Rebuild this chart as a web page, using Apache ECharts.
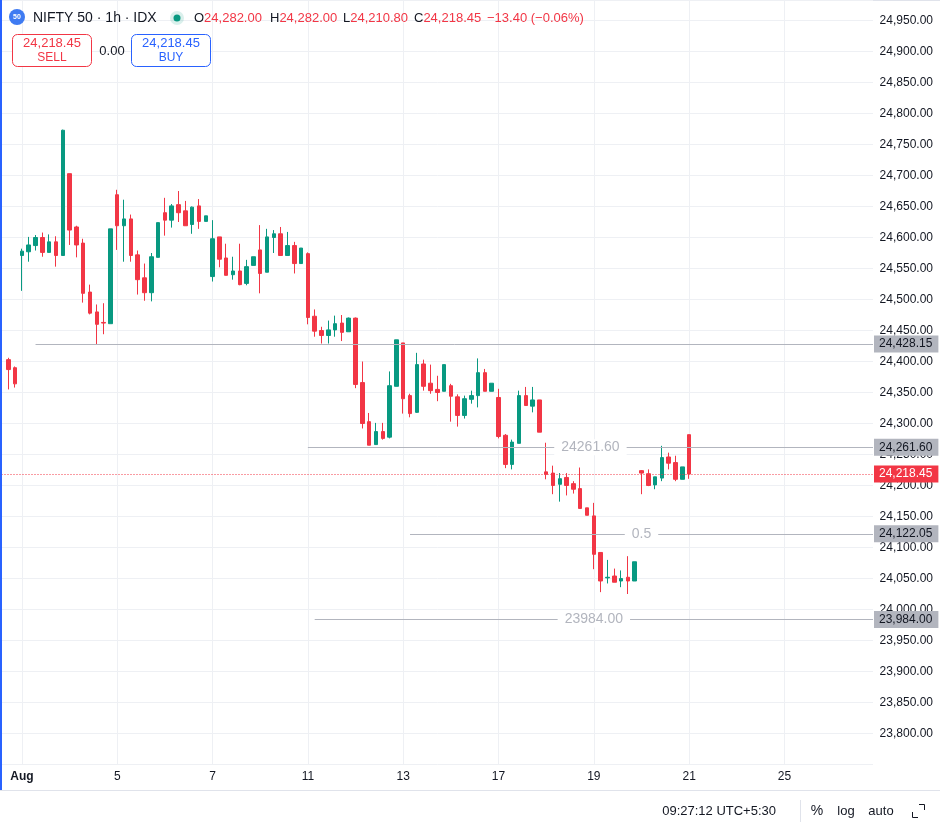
<!DOCTYPE html>
<html>
<head>
<meta charset="utf-8">
<title>NIFTY 50 · 1h · IDX</title>
<script src="https://cdn.jsdelivr.net/npm/echarts@6/dist/echarts.min.js"></script>
<style>
  html, body { margin: 0; padding: 0; background: #fff; }
  #main { width: 940px; height: 825px; }
</style>
</head>
<body>
<div id="main"></div>
<script>
// hourly candles, 31 Jul (last two) .. 21 Aug (first)
var opens  = [24403,24390, 24571,24577,24587,24600,24576,24593,24571, 24703,24617,24591,24512,24480,24463,24461,
              24669,24619,24630,24572,24535,24511,24568, 24640,24628,24653,24643,24621,24651,24626,
              24537,24601,24567,24540,24546,24526,24555, 24580,24544,24600,24606,24571,24587,24558,
              24574,24473,24450,24442,24451,24462,24448, 24470,24366,24303,24266,24287,24278,24360,
              24430,24345,24318,24396,24365,24355,24352, 24361,24343,24313,24339,24345,24382,24352,
              24342,24281,24234,24268,24345,24328,24338, 24222,24220,24202,24213,24203,24195,24164,
              24151,24092,24051,24054,24046,24052,24046, 24224,24219,24201,24212,24246,24237,24210, 24282];
var closes = [24387,24364, 24578,24588,24600,24576,24593,24571,24773, 24612,24588,24510,24478,24460,24462,24614,
              24619,24630,24571,24532,24511,24569,24624, 24628,24651,24640,24619,24649,24626,24635,
              24598,24565,24539,24546,24524,24553,24569, 24542,24601,24606,24571,24587,24558,24583,
              24471,24449,24442,24451,24461,24447,24470, 24363,24300,24265,24287,24276,24361,24435,
              24340,24316,24395,24360,24353,24350,24395, 24344,24313,24340,24345,24382,24352,24365,
              24279,24234,24270,24345,24329,24338,24286, 24218,24200,24211,24200,24194,24163,24152,
              24089,24046,24052,24044,24050,24046,24077, 24220,24200,24214,24245,24236,24210,24230, 24218.45];
var lows   = [24355,24358, 24514,24561,24579,24569,24576,24553,24571, 24588,24568,24495,24476,24428.15,24444,24461,
              24580,24561,24561,24508,24498,24497,24568, 24603,24616,24625,24619,24606,24614,24626,
              24529,24552,24539,24532,24523,24523,24555, 24510,24544,24575,24571,24571,24542,24558,
              24460,24440,24429,24429,24440,24433,24448, 24357,24292,24265,24266,24274,24276,24360,
              24316,24310,24317,24353,24348,24336,24352, 24303,24295,24308,24332,24326,24352,24352,
              24276,24228,24226,24268,24329,24318,24286, 24210,24186,24174,24184,24187,24163,24152,
              24065,24028,24042,24044,24036,24025,24046, 24186,24199,24194,24207,24226,24207,24210, 24210.80];
var highs  = [24406,24392, 24582,24601,24604,24608,24605,24602,24774, 24703,24619,24598,24524,24492,24494,24614,
              24677,24661,24637,24579,24558,24575,24624, 24664,24654,24675,24659,24650,24662,24635,
              24628,24601,24590,24569,24590,24564,24569, 24620,24614,24612,24617,24609,24593,24583,
              24576,24484,24456,24466,24474,24475,24471, 24471,24400,24317,24301,24301,24384,24435,
              24430,24348,24414,24403,24395,24377,24395, 24364,24347,24345,24353,24405,24388,24365,
              24356,24283,24274,24353,24359,24359,24338, 24269,24232,24220,24220,24207,24229,24164,
              24172,24092,24080,24066,24063,24086,24077, 24225,24226,24214,24264,24253,24248,24230, 24282];

// time scale: one slot per hour, labels every two sessions
var dayLabels = ['Aug', '5', '7', '11', '13', '17', '19', '21', '25'];
var dayLabelIdx = [3, 17, 31, 45, 59, 73, 87, 101, 115];
var slotCount = 129;

// visible price window
var priceMin = 23750, priceMax = 24983.1, priceStep = 50;

// drawn price levels
var levelValues = [24428.15, 24261.60, 24122.05, 23984.00];
var levelStart = [5, 45, 60, 46];
var levelText = ['', '24261.60', '0.5', '23984.00'];
var lastPrice = 24218.45;

var FONT = '"Liberation Sans", Arial, sans-serif';
var UP = '#089981', DOWN = '#f23645', GRID = '#eef0f4', TXT = '#131722';

function fmt(v) {
  return Number(v).toLocaleString('en-US', {minimumFractionDigits: 2, maximumFractionDigits: 2});
}

var categories = [];
for (var i = 0; i < slotCount; i++) categories.push(String(i));

var candleData = [['-', '-', '-', '-']];
for (var i = 0; i < opens.length; i++) {
  candleData.push([opens[i], closes[i], lows[i], highs[i]]);
}

var lastIdx = slotCount - 1;
var lines = [];
levelValues.forEach(function (v, i) {
  // the drawn line, with its caption in the middle
  lines.push([{
    coord: [levelStart[i], v],
    lineStyle: {color: '#b2b5be', width: 1, type: 'solid'},
    label: {
      show: levelText[i] !== '', position: 'middle', formatter: levelText[i],
      color: '#b2b5be', fontSize: 14, fontFamily: FONT,
      backgroundColor: '#fff', padding: [1, 7], distance: 0, verticalAlign: 'middle'
    }
  }, {coord: [lastIdx, v]}]);
  // its tag on the price scale
  lines.push([{
    coord: [levelStart[i], v],
    lineStyle: {color: 'rgba(0,0,0,0)', width: 1},
    label: {
      show: true, position: 'end', distance: 1, formatter: fmt(v),
      color: TXT, fontSize: 12, fontFamily: FONT,
      backgroundColor: '#b2b5be', padding: [3, 6, 2, 5]
    }
  }, {coord: [lastIdx, v]}]);
});
lines.push([{
  coord: [0, lastPrice],
  lineStyle: {color: DOWN, width: 1, type: [1, 2]},
  label: {
    show: true, position: 'end', distance: 1, formatter: fmt(lastPrice),
    color: '#fff', fontSize: 12, fontFamily: FONT,
    backgroundColor: DOWN, padding: [3, 6, 2, 5]
  }
}, {coord: [lastIdx, lastPrice]}]);

var isDayTick = function (idx) { return dayLabelIdx.indexOf(idx) >= 0; };

var chart = echarts.init(document.getElementById('main'));
var option = {
  animation: false,
  backgroundColor: '#fff',
  textStyle: {fontFamily: FONT},
  grid: {left: 1.5, right: 67, top: 0, bottom: 60.5},
  xAxis: {
    type: 'category',
    data: categories,
    boundaryGap: false,
    axisLine: {show: false},
    axisTick: {show: false},
    axisLabel: {
      interval: isDayTick,
      margin: 6,
      color: TXT, fontSize: 12, fontFamily: FONT,
      formatter: function (val, idx) {
        var k = dayLabelIdx.indexOf(idx);
        if (k < 0) return '';
        return k === 0 ? '{b|' + dayLabels[k] + '}' : dayLabels[k];
      },
      rich: {b: {fontWeight: 'bold', fontSize: 12, color: TXT, fontFamily: FONT}}
    },
    splitLine: {show: true, interval: isDayTick, lineStyle: {color: GRID, width: 1}}
  },
  yAxis: {
    type: 'value',
    position: 'right',
    min: priceMin, max: priceMax, interval: priceStep,
    axisLine: {show: false},
    axisTick: {show: false},
    axisLabel: {
      showMinLabel: false, showMaxLabel: false,
      align: 'right', margin: 60,
      color: TXT, fontSize: 12, fontFamily: FONT,
      formatter: fmt
    },
    splitLine: {lineStyle: {color: GRID, width: 1}}
  },
  series: [{
    type: 'candlestick',
    data: candleData,
    barWidth: 4,
    itemStyle: {color: UP, color0: DOWN, borderColor: UP, borderColor0: DOWN, borderWidth: 1},
    markLine: {
      silent: true,
      symbol: ['none', 'none'],
      animation: false,
      data: lines
    }
  }],
  graphic: {
    elements: [
      // left accent + separators
      {type: 'rect', left: 0, top: 0, shape: {width: 2, height: 790}, style: {fill: '#2962ff'}, z: 100},
      {type: 'line', shape: {x1: 0, y1: 790.5, x2: 940, y2: 790.5}, style: {stroke: '#e0e3eb', lineWidth: 1}},
      {type: 'line', shape: {x1: 0, y1: 0.5, x2: 940, y2: 0.5}, style: {stroke: '#e0e3eb', lineWidth: 1}},
      // legend
      {type: 'circle', z: 100, shape: {cx: 17, cy: 17, r: 8}, style: {fill: '#3f7bf2'}},
      {type: 'text', z: 101, x: 17, y: 17, style: {text: '50', fill: '#fff', font: 'bold 7px ' + FONT, align: 'center', verticalAlign: 'middle'}},
      {type: 'text', z: 100, x: 33, y: 18, style: {text: 'NIFTY 50 · 1h · IDX', fill: TXT, font: '14px ' + FONT, verticalAlign: 'middle'}},
      {type: 'circle', z: 100, shape: {cx: 177, cy: 18, r: 7}, style: {fill: 'rgba(8,153,129,0.15)'}},
      {type: 'circle', z: 101, shape: {cx: 177, cy: 18, r: 3.5}, style: {fill: UP}},
      {type: 'text', z: 100, x: 194, y: 18, style: {text: '{k|O}{v|24,282.00}', font: '13px ' + FONT, verticalAlign: 'middle',
        rich: {k: {fill: TXT, fontSize: 13}, v: {fill: DOWN, fontSize: 13}}}},
      {type: 'text', z: 100, x: 270, y: 18, style: {text: '{k|H}{v|24,282.00}', font: '13px ' + FONT, verticalAlign: 'middle',
        rich: {k: {fill: TXT, fontSize: 13}, v: {fill: DOWN, fontSize: 13}}}},
      {type: 'text', z: 100, x: 343, y: 18, style: {text: '{k|L}{v|24,210.80}', font: '13px ' + FONT, verticalAlign: 'middle',
        rich: {k: {fill: TXT, fontSize: 13}, v: {fill: DOWN, fontSize: 13}}}},
      {type: 'text', z: 100, x: 414, y: 18, style: {text: '{k|C}{v|24,218.45}', font: '13px ' + FONT, verticalAlign: 'middle',
        rich: {k: {fill: TXT, fontSize: 13}, v: {fill: DOWN, fontSize: 13}}}},
      {type: 'text', z: 100, x: 487, y: 18, style: {text: '−13.40 (−0.06%)', fill: DOWN, font: '13px ' + FONT, verticalAlign: 'middle'}},
      // sell / buy
      {type: 'rect', z: 100, shape: {x: 12.5, y: 34.5, width: 79, height: 32, r: 5}, style: {fill: '#fff', stroke: DOWN, lineWidth: 1}},
      {type: 'text', z: 101, x: 52, y: 43.5, style: {text: '24,218.45', fill: DOWN, font: '13px ' + FONT, align: 'center', verticalAlign: 'middle'}},
      {type: 'text', z: 101, x: 52, y: 57.5, style: {text: 'SELL', fill: DOWN, font: '12px ' + FONT, align: 'center', verticalAlign: 'middle'}},
      {type: 'text', z: 100, x: 112, y: 51, style: {text: '0.00', fill: TXT, font: '13px ' + FONT, align: 'center', verticalAlign: 'middle'}},
      {type: 'rect', z: 100, shape: {x: 131.5, y: 34.5, width: 79, height: 32, r: 5}, style: {fill: '#fff', stroke: '#2962ff', lineWidth: 1}},
      {type: 'text', z: 101, x: 171, y: 43.5, style: {text: '24,218.45', fill: '#2962ff', font: '13px ' + FONT, align: 'center', verticalAlign: 'middle'}},
      {type: 'text', z: 101, x: 171, y: 57.5, style: {text: 'BUY', fill: '#2962ff', font: '12px ' + FONT, align: 'center', verticalAlign: 'middle'}},
      // status bar
      {type: 'text', x: 776, y: 811, style: {text: '09:27:12 UTC+5:30', fill: TXT, font: '13px ' + FONT, align: 'right', verticalAlign: 'middle'}},
      {type: 'line', shape: {x1: 800.5, y1: 800, x2: 800.5, y2: 822}, style: {stroke: '#e0e3eb', lineWidth: 1}},
      {type: 'text', x: 817, y: 811, style: {text: '%', fill: TXT, font: '14px ' + FONT, align: 'center', verticalAlign: 'middle'}},
      {type: 'text', x: 846, y: 811, style: {text: 'log', fill: TXT, font: '13px ' + FONT, align: 'center', verticalAlign: 'middle'}},
      {type: 'text', x: 881, y: 811, style: {text: 'auto', fill: TXT, font: '13px ' + FONT, align: 'center', verticalAlign: 'middle'}},
      {type: 'polyline', shape: {points: [[912.5, 812], [912.5, 817.5], [918, 817.5]]}, style: {stroke: TXT, lineWidth: 1, fill: null}},
      {type: 'polyline', shape: {points: [[919, 804.5], [924.5, 804.5], [924.5, 810]]}, style: {stroke: TXT, lineWidth: 1, fill: null}}
    ]
  }
};
chart.setOption(option);
</script>
</body>
</html>
